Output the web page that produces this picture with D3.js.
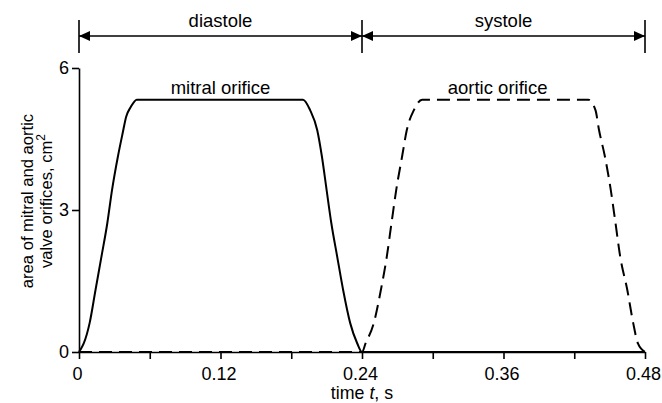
<!DOCTYPE html>
<html>
<head>
<meta charset="utf-8">
<script src="https://cdn.jsdelivr.net/npm/d3@7"></script>
<style>
  body { margin: 0; background: #fff; }
  text { font-family: "Liberation Sans", Arial, sans-serif; fill: #000; }
</style>
</head>
<body>
<div id="chart"></div>
<script>
// time, s
var mitralT = [0, 0.001, 0.004, 0.009, 0.014, 0.019, 0.024, 0.028, 0.033, 0.037, 0.040, 0.044, 0.049,
               0.190, 0.196, 0.202, 0.206, 0.210, 0.214, 0.219, 0.224, 0.230, 0.236, 0.24, 0.48];
// area, cm2
var mitralA = [0, 0.04, 0.18, 0.61, 1.31, 2.01, 2.72, 3.42, 4.13, 4.62, 4.97, 5.18, 5.33,
               5.33, 5.11, 4.69, 4.13, 3.42, 2.72, 2.01, 1.31, 0.61, 0.18, 0, 0];

var aorticT = [0, 0.24, 0.243, 0.250, 0.256, 0.261, 0.265, 0.269, 0.274, 0.278, 0.284, 0.291,
               0.432, 0.438, 0.441, 0.446, 0.451, 0.455, 0.459, 0.465, 0.470, 0.474, 0.48];
var aorticA = [0, 0, 0.18, 0.61, 1.31, 2.01, 2.72, 3.42, 4.13, 4.69, 5.11, 5.33,
               5.33, 5.11, 4.69, 4.13, 3.42, 2.72, 2.01, 1.31, 0.61, 0.18, 0];

var xTicks = [0, 0.12, 0.24, 0.36, 0.48];
var xMinor = [0.06, 0.18, 0.30, 0.42];
var yTicks = [0, 3, 6];

var phaseNames = ["diastole", "systole"];
var phaseBounds = [0, 0.24, 0.48];

var curveNames = ["mitral orifice", "aortic orifice"];
var curveLabelT = [0.12, 0.355];

var width = 662, height = 403;
var fs = 18.5;

var svg = d3.select("#chart").append("svg")
  .attr("width", width)
  .attr("height", height);

var x = d3.scaleLinear().domain([0, 0.48]).range([79, 645]);
var y = d3.scaleLinear().domain([0, 6]).range([352, 68]);

// axes
var gx = svg.append("g")
  .attr("transform", "translate(0," + y(0) + ")")
  .call(d3.axisBottom(x).tickValues(xTicks).tickSize(7).tickSizeOuter(0).tickPadding(8)
    .tickFormat(function(d) { return d === 0 ? "0" : d3.format(".2f")(d); }));
gx.selectAll(".tick text").attr("dx", -2);

svg.append("g")
  .attr("transform", "translate(0," + y(0) + ")")
  .call(d3.axisBottom(x).tickValues(xMinor).tickSize(7).tickFormat(""))
  .select(".domain").remove();

svg.append("g")
  .attr("transform", "translate(" + x(0) + ",0)")
  .call(d3.axisLeft(y).tickValues(yTicks).tickSize(7).tickSizeOuter(0).tickPadding(3)
    .tickFormat(d3.format("d")));

svg.selectAll(".domain, .tick line").attr("stroke", "#000").attr("stroke-width", 1.6);
svg.selectAll(".tick text").attr("font-size", 18).attr("font-family", "Liberation Sans, Arial, sans-serif").attr("fill", "#000");

// curves
var line = d3.line()
  .x(function(d) { return x(d[0]); })
  .y(function(d) { return y(d[1]); })
  .curve(d3.curveMonotoneX);

svg.append("path")
  .datum(d3.zip(mitralT, mitralA))
  .attr("d", line)
  .attr("fill", "none")
  .attr("stroke", "#000")
  .attr("stroke-width", 2);

svg.append("path")
  .datum(d3.zip(aorticT, aorticA))
  .attr("d", line)
  .attr("fill", "none")
  .attr("stroke", "#000")
  .attr("stroke-width", 2)
  .attr("stroke-dasharray", "13,7");

// curve labels
svg.selectAll(".curve-label")
  .data(curveNames)
  .join("text")
  .attr("class", "curve-label")
  .attr("x", function(d, i) { return x(curveLabelT[i]); })
  .attr("y", 94)
  .attr("text-anchor", "middle")
  .attr("font-size", fs)
  .text(function(d) { return d; });

// diastole / systole header
var hy = 36;
svg.append("line")
  .attr("x1", x(phaseBounds[0])).attr("x2", x(phaseBounds[2]))
  .attr("y1", hy).attr("y2", hy)
  .attr("stroke", "#000").attr("stroke-width", 1.6);

svg.selectAll(".bar")
  .data(phaseBounds)
  .join("line")
  .attr("class", "bar")
  .attr("x1", function(d) { return x(d); }).attr("x2", function(d) { return x(d); })
  .attr("y1", 20).attr("y2", 53)
  .attr("stroke", "#000").attr("stroke-width", 1.6);

// arrow heads: each phase has one at its start (pointing left) and end (pointing right)
var heads = [];
phaseNames.forEach(function(p, i) {
  heads.push({ t: phaseBounds[i], dir: -1 });
  heads.push({ t: phaseBounds[i + 1], dir: 1 });
});
svg.selectAll(".head")
  .data(heads)
  .join("path")
  .attr("class", "head")
  .attr("d", function(d) {
    var tip = x(d.t), base = tip - d.dir * 11;
    return "M" + tip + "," + hy + "L" + base + "," + (hy - 5) + "L" + base + "," + (hy + 5) + "Z";
  })
  .attr("fill", "#000");

svg.selectAll(".phase")
  .data(phaseNames)
  .join("text")
  .attr("class", "phase")
  .attr("x", function(d, i) { return x((phaseBounds[i] + phaseBounds[i + 1]) / 2); })
  .attr("y", 27)
  .attr("text-anchor", "middle")
  .attr("font-size", fs)
  .text(function(d) { return d; });

// axis titles
var xt = svg.append("text")
  .attr("x", x(0.24))
  .attr("y", 399)
  .attr("text-anchor", "middle")
  .attr("font-size", 17.8);
xt.append("tspan").text("time ");
xt.append("tspan").attr("font-style", "italic").text("t");
xt.append("tspan").text(", s");

var yt = svg.append("text")
  .attr("transform", "translate(33,201) rotate(-90)")
  .attr("text-anchor", "middle")
  .attr("font-size", 16.6);
yt.append("tspan").attr("x", 0).attr("dy", 0).text("area of mitral and aortic");
yt.append("tspan").attr("x", 0).attr("dy", 19).text("valve orifices, cm");
yt.append("tspan").attr("font-size", 12).attr("dy", -7).text("2");
</script>
</body>
</html>
